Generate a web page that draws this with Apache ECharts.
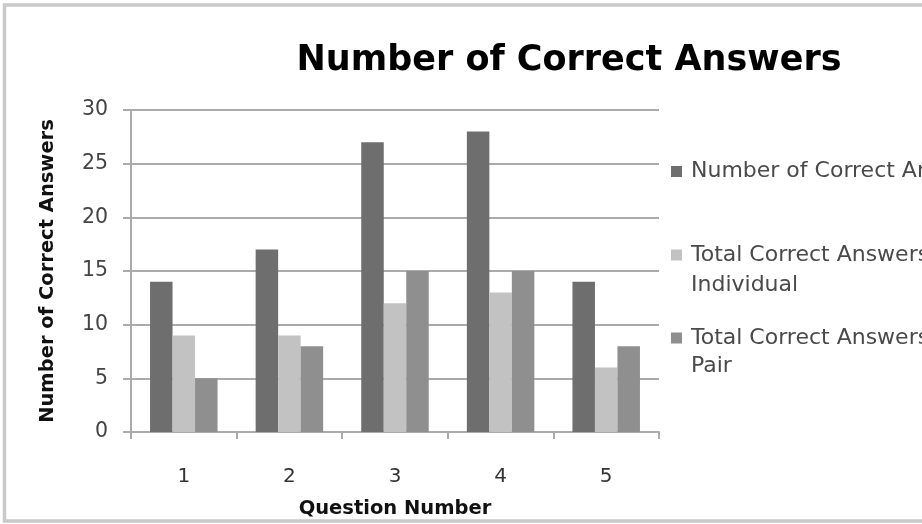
<!DOCTYPE html>
<html>
<head>
<meta charset="utf-8">
<script src="https://cdn.jsdelivr.net/npm/echarts@6/dist/echarts.min.js"></script>
<style>
  html, body { margin: 0; padding: 0; background: #ffffff; }
  #chart { width: 922px; height: 524px; }
</style>
</head>
<body>
<div id="chart"></div>
<script>
// Question numbers along the x axis
const questions = ['1', '2', '3', '4', '5'];

// Counts per question
const correctAnswers = [14, 17, 27, 28, 14];
const individualAnswers = [9, 9, 12, 13, 6];
const pairAnswers = [5, 8, 15, 15, 8];

// Series names and the lines each legend entry is written on
const seriesNames = ['Number of Correct Answers', 'Total Correct Answers Individual', 'Total Correct Answers Pair'];
const legendLines = [
  ['Number of Correct Answers'],
  ['Total Correct Answers', 'Individual'],
  ['Total Correct Answers', 'Pair']
];

// Value axis range
const yMin = 0;
const yMax = 30;
const yStep = 5;

const barColors = ['#6e6e6e', '#c2c2c2', '#8f8f8f'];
const gridColor = '#ababab';
const fontFamily = 'DejaVu Sans';

const chart = echarts.init(document.getElementById('chart'), null, { renderer: 'canvas' });

// One legend block per series so each entry can sit at its own height.
// Multi-line entries get an empty first line so the swatch lines up with the first text line.
const legendTops = [157, 210, 296];
const legendLineHeights = [29, 30, 28];
const legends = seriesNames.map((name, i) => ({
  data: [name],
  orient: 'vertical',
  left: 671,
  top: legendTops[i],
  padding: 0,
  itemWidth: 11,
  itemHeight: 11,
  icon: 'rect',
  selectedMode: false,
  formatter: () => {
    const lines = legendLines[i];
    return lines.length > 1 ? ' \n' + lines.join('\n') : lines[0];
  },
  textStyle: {
    fontFamily: fontFamily,
    fontSize: 22,
    lineHeight: legendLineHeights[i],
    color: '#4a4a4a',
    padding: [0, 0, 0, 4]
  }
}));

const option = {
  backgroundColor: '#ffffff',
  animation: false,
  title: {
    text: 'Number of Correct Answers',
    left: 564,
    top: 38,
    textAlign: 'center',
    textStyle: {
      fontFamily: fontFamily,
      fontWeight: 'bold',
      fontSize: 35,
      color: '#000000'
    }
  },
  legend: legends,
  grid: {
    left: 131,
    right: 263,
    top: 110,
    bottom: 91,
    containLabel: false
  },
  xAxis: {
    type: 'category',
    data: questions,
    name: 'Question Number',
    nameLocation: 'middle',
    nameGap: 67,
    nameTextStyle: {
      fontFamily: fontFamily,
      fontWeight: 'bold',
      fontSize: 19.5,
      color: '#111111'
    },
    axisLine: { show: true, lineStyle: { color: gridColor, width: 2 } },
    axisTick: { show: true, length: 7, alignWithLabel: false, lineStyle: { color: gridColor, width: 2 } },
    axisLabel: {
      margin: 35,
      fontFamily: fontFamily,
      fontSize: 20,
      color: '#333333'
    },
    splitLine: { show: false }
  },
  yAxis: {
    type: 'value',
    min: yMin,
    max: yMax,
    interval: yStep,
    name: 'Number of Correct Answers',
    nameLocation: 'middle',
    nameGap: 73,
    nameRotate: 90,
    nameTextStyle: {
      fontFamily: fontFamily,
      fontWeight: 'bold',
      fontSize: 19.5,
      color: '#111111'
    },
    axisLine: { show: true, lineStyle: { color: gridColor, width: 2 } },
    axisTick: { show: true, length: 8, lineStyle: { color: gridColor, width: 2 } },
    axisLabel: {
      margin: 23,
      fontFamily: fontFamily,
      fontSize: 20.5,
      color: '#444444'
    },
    splitLine: { show: true, lineStyle: { color: gridColor, width: 2 } }
  },
  series: [
    { name: seriesNames[0], type: 'bar', data: correctAnswers, barWidth: 22.5, barGap: '0%', itemStyle: { color: barColors[0] } },
    { name: seriesNames[1], type: 'bar', data: individualAnswers, barWidth: 22.5, barGap: '0%', itemStyle: { color: barColors[1] } },
    { name: seriesNames[2], type: 'bar', data: pairAnswers, barWidth: 22.5, barGap: '0%', itemStyle: { color: barColors[2] } }
  ],
  graphic: [
    {
      type: 'rect',
      silent: true,
      shape: { x: 4.5, y: 5, width: 940, height: 516 },
      style: { fill: 'none', stroke: '#c9c9c9', lineWidth: 3.5 }
    }
  ]
};

chart.setOption(option);
</script>
</body>
</html>
